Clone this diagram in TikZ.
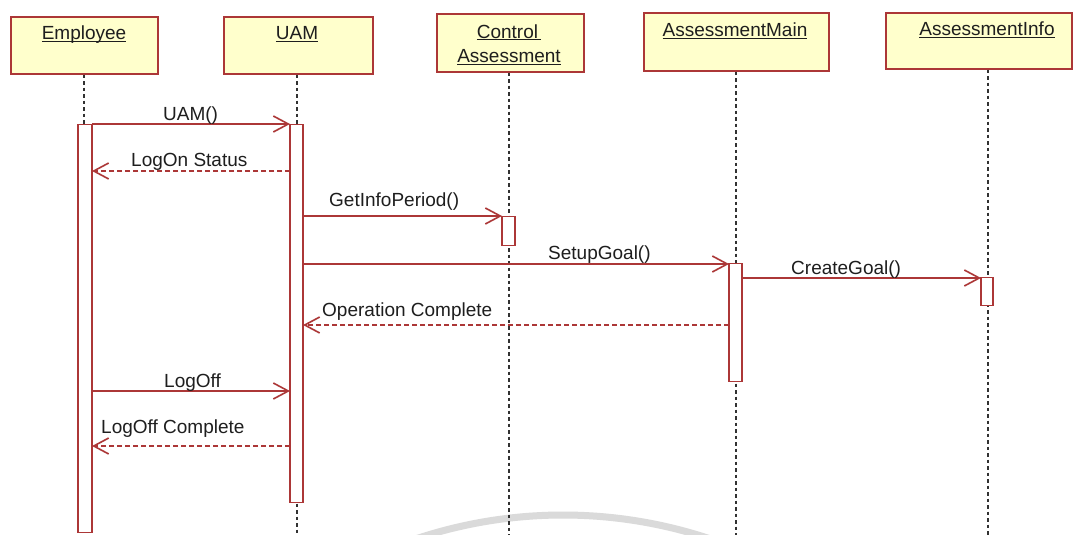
\documentclass[tikz,border=0pt]{standalone}
\usepackage{fontspec}
\setmainfont{Liberation Sans}
\usetikzlibrary{arrows.meta}
\definecolor{umlred}{RGB}{172,55,55}
\definecolor{boxfill}{RGB}{255,255,204}
\definecolor{lifegray}{RGB}{50,50,50}
\definecolor{txt}{RGB}{30,30,30}
\definecolor{wmark}{RGB}{218,218,218}
\newcommand\myul[1]{\setbox0\hbox{#1}\rlap{\rule[-2.2pt]{\wd0}{1.1pt}}\box0}
\begin{document}
\begin{tikzpicture}[x=1pt,y=-1pt,
  objbox/.style={draw=umlred, fill=boxfill, line width=1.6pt, rectangle, inner sep=0, anchor=north west},
  title/.style={anchor=base, text=txt, font=\fontsize{19}{22}\selectfont, inner sep=0},
  lifeline/.style={draw=lifegray, line width=1.4pt, dash pattern=on 3.5pt off 3pt},
  actbar/.style={draw=umlred, fill=white, line width=1.4pt, inner sep=0, minimum width=13pt, anchor=north},
  msg/.style={draw=umlred, line width=1.6pt, -{Straight Barb[length=15pt,width=16pt,line width=1.6pt]}},
  reply/.style={msg, dash pattern=on 5pt off 3pt},
  lbl/.style={anchor=base west, text=txt, font=\fontsize{19}{22}\selectfont, inner sep=0}]
\useasboundingbox[fill=white] (0,0) rectangle (1081,535);
% faint watermark arc
\begin{scope}
\clip (0,0) rectangle (1081,535);
\draw[wmark, line width=7pt] (563,980) ++(-120:465) arc[start angle=-120, end angle=-60, radius=465];
\end{scope}
% object boxes
\node[objbox, minimum width=147pt, minimum height=57pt] (emp) at (10,16) {};
\node[objbox, minimum width=149pt, minimum height=57pt] (uam) at (223,16) {};
\node[objbox, minimum width=147pt, minimum height=58pt] (ctl) at (436,13) {};
\node[objbox, minimum width=185pt, minimum height=58pt] (amain) at (643,12) {};
\node[objbox, minimum width=186pt, minimum height=56pt] (ainfo) at (885,12) {};
\node[title] (empT) at (84,40) {\myul{Employee}};
\node[title] (uamT) at (297,40) {\myul{UAM}};
\node[title] (ctlT1) at (509,38) {\myul{Control\,}};
\node[title] (ctlT2) at (509,63) {\myul{Assessment}};
\node[title] (amainT) at (735,37) {\myul{AssessmentMain}};
\node[title] (ainfoT) at (987,36) {\myul{AssessmentInfo}};
% lifelines
\coordinate (empEnd) at (84,535);
\coordinate (uamEnd) at (297,535);
\coordinate (ctlEnd) at (509,535);
\coordinate (amainEnd) at (736,535);
\coordinate (ainfoEnd) at (988,535);
\draw[lifeline] (emp.south -| empEnd) -- (empEnd);
\draw[lifeline] (uam.south -| uamEnd) -- (uamEnd);
\draw[lifeline] (ctl.south -| ctlEnd) -- (ctlEnd);
\draw[lifeline] (amain.south -| amainEnd) -- (amainEnd);
\draw[lifeline] (ainfo.south -| ainfoEnd) -- (ainfoEnd);
% activation bars
\node[actbar, minimum width=14pt, minimum height=408pt] (empbar) at (85,124) {};
\node[actbar, minimum height=378pt] (uambar) at (296.5,124) {};
\node[actbar, minimum height=29pt] (ctlbar) at (508.5,216) {};
\node[actbar, minimum height=118pt] (amainbar) at (735.5,263) {};
\node[actbar, minimum width=12pt, minimum height=28pt] (ainfobar) at (987,277) {};
% message end points
\coordinate (m1a) at (92,124);  \coordinate (m1b) at (290,124);
\coordinate (m2a) at (290,171); \coordinate (m2b) at (92,171);
\coordinate (m3a) at (303,216); \coordinate (m3b) at (502,216);
\coordinate (m4a) at (303,264); \coordinate (m4b) at (729,264);
\coordinate (m5a) at (742,278); \coordinate (m5b) at (981,278);
\coordinate (m6a) at (729,325); \coordinate (m6b) at (303,325);
\coordinate (m7a) at (92,391);  \coordinate (m7b) at (290,391);
\coordinate (m8a) at (290,446); \coordinate (m8b) at (92,446);
\draw[msg] (m1a) -- (m1b);
\draw[reply] (m2a) -- (m2b);
\draw[msg] (m3a) -- (m3b);
\draw[msg] (m4a) -- (m4b);
\draw[msg] (m5a) -- (m5b);
\draw[reply] (m6a) -- (m6b);
\draw[msg] (m7a) -- (m7b);
\draw[reply] (m8a) -- (m8b);
% labels
\node[lbl] (l1) at (163,120) {UAM()};
\node[lbl] (l2) at (131,166) {LogOn Status};
\node[lbl] (l3) at (329,206) {GetInfoPeriod()};
\node[lbl] (l4) at (548,259) {SetupGoal()};
\node[lbl] (l5) at (791,274) {CreateGoal()};
\node[lbl] (l6) at (322,316) {Operation Complete};
\node[lbl] (l7) at (164,387) {LogOff};
\node[lbl] (l8) at (101,433) {LogOff Complete};
\end{tikzpicture}
\end{document}
